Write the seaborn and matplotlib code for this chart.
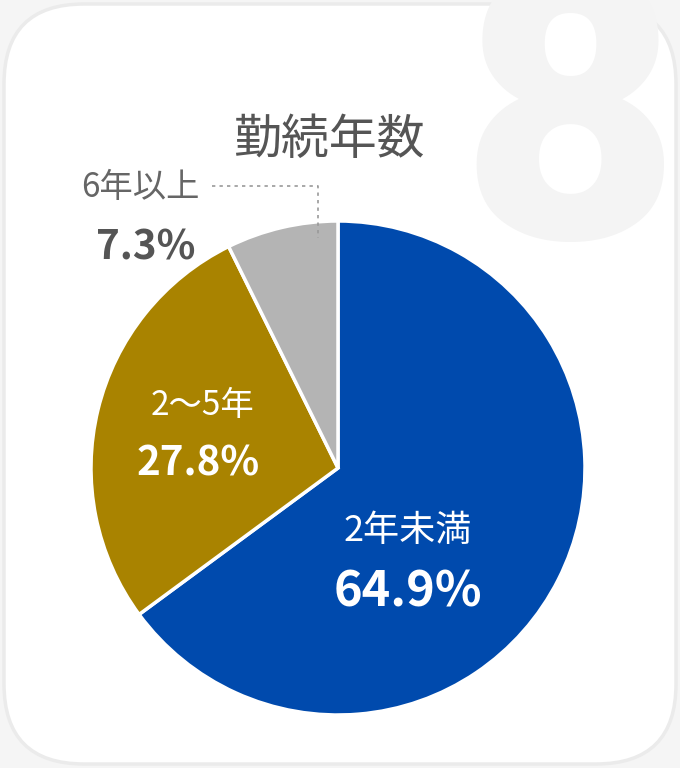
import matplotlib
matplotlib.use("Agg")
import matplotlib.pyplot as plt
import seaborn as sns
from matplotlib.patches import FancyBboxPatch

# data
labels = ["2年未満", "2〜5年", "6年以上"]
values = [64.9, 27.8, 7.3]
colors = ["#004AAD", "#A98300", "#B4B4B4"]
title = "勤続年数"
badge = "8"

sns.set_theme(style="white")
plt.rcParams["font.family"] = ["Noto Sans CJK JP", "DejaVu Sans"]

fig = plt.figure(figsize=(6.8, 7.68), dpi=100)
fig.patch.set_facecolor("#F5F5F5")
ax = fig.add_axes([0, 0, 1, 1])
ax.set_xlim(0, 680)
ax.set_ylim(0, 768)
ax.set_aspect("equal")
ax.axis("off")

# card background
card = FancyBboxPatch((4, 4), 672, 760, boxstyle="round,pad=0,rounding_size=80",
                      facecolor="white", edgecolor="#EBEBEB", linewidth=2.5, zorder=0)
ax.add_patch(card)

# big number in the corner
ax.text(570, 634, badge, fontsize=272, fontweight=900, family=["Roboto", "Noto Sans CJK JP"],
        color="#F4F4F4", ha="center", va="center", zorder=1)

ax.text(329, 628, title, fontsize=34.5, color="#555555", ha="center", va="center", zorder=3)

wedges, _ = ax.pie(values, colors=colors, startangle=90, counterclock=False,
                   center=(338, 300), radius=247, frame=True,
                   wedgeprops=dict(edgecolor="white", linewidth=2.5))
for w in wedges:
    w.set_zorder(2)
ax.set_xlim(0, 680)
ax.set_ylim(0, 768)
ax.axis("off")

# slice labels
ax.text(408, 237, labels[0], fontsize=26, color="white", ha="center", va="center", zorder=3)
ax.text(408, 176, f"{values[0]}%", fontsize=35, fontweight="bold", color="white",
        ha="center", va="center", zorder=3)
ax.text(203, 362, labels[1], fontsize=24, color="white", ha="center", va="center", zorder=3)
ax.text(198, 304, f"{values[1]}%", fontsize=29, fontweight="bold", color="white",
        ha="center", va="center", zorder=3)
ax.text(140, 580, labels[2], fontsize=24, color="#666666", ha="center", va="center", zorder=3)
ax.text(146, 520, f"{values[2]}%", fontsize=29, fontweight="bold", color="#555555",
        ha="center", va="center", zorder=3)

# leader line
ax.plot([212, 318, 318], [582, 582, 530], color="#999999", linewidth=1.2,
        linestyle=(0, (2, 2.5)), zorder=3)

fig.savefig("out.png", dpi=100, facecolor=fig.get_facecolor())
